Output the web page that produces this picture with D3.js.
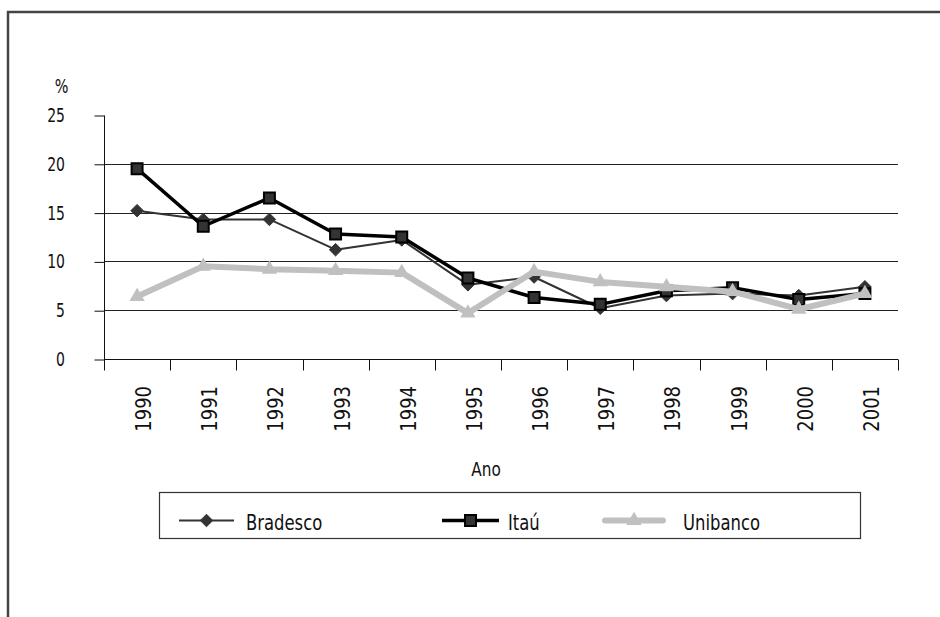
<!DOCTYPE html>
<html>
<head>
<meta charset="utf-8">
<script src="https://cdn.jsdelivr.net/npm/d3@7"></script>
<style>
  body { margin: 0; background: #fff; }
  svg text { font-family: "Liberation Sans Narrow", "Arial Narrow", "DejaVu Sans Condensed", sans-serif; fill: #111; }
</style>
</head>
<body>
<div id="chart"></div>
<script>
// data
const years = ["1990", "1991", "1992", "1993", "1994", "1995", "1996", "1997", "1998", "1999", "2000", "2001"];
const bradesco = [15.2, 14.3, 14.3, 11.2, 12.2, 7.6, 8.4, 5.2, 6.5, 6.7, 6.5, 7.4];
const itau = [19.5, 13.6, 16.5, 12.8, 12.5, 8.3, 6.3, 5.6, 7.0, 7.3, 6.1, 6.7];
const unibanco = [6.4, 9.5, 9.2, 9.05, 8.85, 4.7, 8.95, 7.9, 7.4, 6.9, 5.1, 6.7];
const yTicks = [0, 5, 10, 15, 20, 25];

const series = [
  { name: "Bradesco", values: bradesco, color: "#333", width: 2, marker: "diamond", msize: 100, mfill: "#333", mstroke: "#333", sw: 1 },
  { name: "Itaú", values: itau, color: "#000", width: 3.5, marker: "square", msize: 120, mfill: "#333", mstroke: "#000", sw: 2 },
  { name: "Unibanco", values: unibanco, color: "#c0c0c0", width: 6, marker: "triangle", msize: 70, mfill: "#c0c0c0", mstroke: "#c0c0c0", sw: 1.5 }
];

const W = 940, H = 617;
const svg = d3.select("#chart").append("svg")
  .attr("width", W)
  .attr("height", H);

// condensed look: squeeze text along its own x direction
function label(g, px, py, txt, size, anchor, sx, rot) {
  return g.append("text")
    .attr("transform", "translate(" + px + "," + py + ")" + (rot ? " rotate(" + rot + ")" : "") + " scale(" + sx + ",1)")
    .attr("text-anchor", anchor)
    .style("font-size", size + "px")
    .text(txt);
}

// outer frame (runs off the right and bottom of the picture)
svg.append("rect")
  .attr("x", 8).attr("y", 12)
  .attr("width", 1000).attr("height", 700)
  .attr("fill", "none")
  .attr("stroke", "#444")
  .attr("stroke-width", 2.5);

const plot = { left: 104, right: 898, top: 115, bottom: 359 };

const x = d3.scaleBand().domain(years).range([plot.left, plot.right]);
const y = d3.scaleLinear().domain([0, 25]).range([plot.bottom, plot.top]);

// gridlines
svg.append("g")
  .selectAll("line")
  .data(yTicks.filter(d => d > 0 && d < 25))
  .enter().append("line")
  .attr("x1", plot.left).attr("x2", plot.right)
  .attr("y1", d => Math.round(y(d)) + 0.5)
  .attr("y2", d => Math.round(y(d)) + 0.5)
  .attr("stroke", "#222")
  .attr("stroke-width", 1);

// y axis
const yAxis = svg.append("g")
  .attr("transform", "translate(" + (plot.left + 0.5) + ",0.5)")
  .call(d3.axisLeft(y).tickValues(yTicks).tickSize(10).tickFormat(""));
yAxis.select(".domain").attr("stroke", "#111").attr("d", "M0," + Math.round(y(25)) + "V" + Math.round(y(0)));
yAxis.selectAll(".tick line").attr("stroke", "#111");
yAxis.selectAll(".tick text").remove();
const yLab = svg.append("g");
yTicks.forEach(t => label(yLab, 65, y(t) + 7, String(t), 19, "end", 0.82));

// x axis
const xAxis = svg.append("g")
  .attr("transform", "translate(0," + (Math.round(plot.bottom) + 0.5) + ")");
xAxis.append("path")
  .attr("stroke", "#111")
  .attr("d", "M" + plot.left + ",0H" + plot.right);
xAxis.selectAll(".xt")
  .data(years.concat(["end"]))
  .enter().append("line")
  .attr("class", "xt")
  .attr("x1", (d, i) => Math.round(plot.left + i * x.bandwidth()) + 0.5)
  .attr("x2", (d, i) => Math.round(plot.left + i * x.bandwidth()) + 0.5)
  .attr("y1", 0).attr("y2", 11)
  .attr("stroke", "#111");

const xLab = svg.append("g");
years.forEach(yr => label(xLab, x(yr) + x.bandwidth() / 2 + 14, 386, yr, 21, "end", 0.95, -90));

// titles
label(svg, 61.5, 93, "%", 20, "middle", 0.8);
label(svg, 486, 476, "Ano", 20, "middle", 0.85);

const symbolType = { diamond: d3.symbolDiamond2, square: d3.symbolSquare, triangle: d3.symbolTriangle };

const line = d3.line()
  .x((d, i) => x(years[i]) + x.bandwidth() / 2)
  .y(d => y(d));

series.forEach(s => {
  svg.append("path")
    .datum(s.values)
    .attr("fill", "none")
    .attr("stroke", s.color)
    .attr("stroke-width", s.width)
    .attr("stroke-linejoin", "round")
    .attr("d", line);
  svg.append("g")
    .selectAll("path")
    .data(s.values)
    .enter().append("path")
    .attr("transform", (d, i) => "translate(" + (x(years[i]) + x.bandwidth() / 2) + "," + y(d) + ")")
    .attr("d", d3.symbol().type(symbolType[s.marker]).size(s.msize))
    .attr("fill", s.mfill)
    .attr("stroke", s.mstroke)
    .attr("stroke-width", s.sw);
});

// legend
const lg = svg.append("g");
lg.append("rect")
  .attr("x", 159.5).attr("y", 492.5)
  .attr("width", 701).attr("height", 46)
  .attr("fill", "#fff")
  .attr("stroke", "#333")
  .attr("stroke-width", 1.2);

const legendPos = [
  { x1: 179, x2: 234, tx: 246 },
  { x1: 442, x2: 499, tx: 508 },
  { x1: 605, x2: 663, tx: 683 }
];
series.forEach((s, i) => {
  const p = legendPos[i];
  const ly = 520.5;
  lg.append("line")
    .attr("x1", p.x1).attr("x2", p.x2)
    .attr("y1", ly).attr("y2", ly)
    .attr("stroke", s.color)
    .attr("stroke-width", s.width)
    .attr("stroke-linecap", s.marker === "triangle" ? "round" : "butt");
  lg.append("path")
    .attr("transform", "translate(" + ((p.x1 + p.x2) / 2) + "," + ly + ")")
    .attr("d", d3.symbol().type(symbolType[s.marker]).size(s.msize))
    .attr("fill", s.mfill)
    .attr("stroke", s.mstroke)
    .attr("stroke-width", s.sw);
  label(lg, p.tx, ly + 9, s.name, 22, "start", 0.83);
});
</script>
</body>
</html>
